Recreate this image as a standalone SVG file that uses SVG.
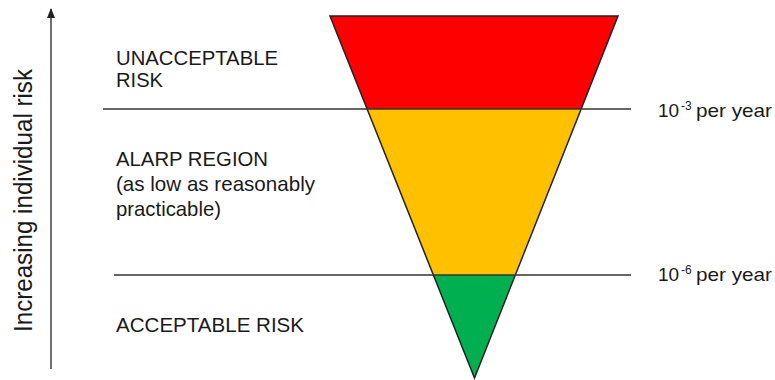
<svg xmlns="http://www.w3.org/2000/svg" width="775" height="380" viewBox="0 0 775 380">
  <defs>
    <style>
      .lbl { font-family: "Liberation Sans", Arial, sans-serif; font-size: 21px; fill: #1a1a1a; }
      .rate { font-family: "Liberation Sans", Arial, sans-serif; font-size: 19px; fill: #1a1a1a; }
      .sup { font-family: "Liberation Sans", Arial, sans-serif; font-size: 12px; fill: #1a1a1a; }
      .axis { font-family: "Liberation Sans", Arial, sans-serif; font-size: 26px; fill: #1a1a1a; }
      .band { stroke: none; }
      .edge { fill: none; stroke: #222; stroke-width: 1.5; stroke-linejoin: miter; }
      .level { stroke: #333; stroke-width: 1.4; fill: none; }
      .arrowline { stroke: #333; stroke-width: 1.4; fill: none; }
    </style>
    <marker id="arrowhead" markerWidth="10" markerHeight="8" refX="9" refY="4" orient="auto" markerUnits="userSpaceOnUse" viewBox="0 0 10 8">
      <path d="M0,0 L10,4 L0,8 Z" fill="#222"/>
    </marker>
  </defs>
  <rect width="775" height="380" fill="#ffffff"/>

  <g id="triangle">
    <polygon id="band-unacceptable" class="band" fill="#FF0000" points="330,16 618,16 581.1,109 367.1,109"/>
    <polygon id="band-alarp" class="band" fill="#FFC000" points="367.1,109 581.1,109 515.3,275 433.4,275"/>
    <polygon id="band-acceptable" class="band" fill="#00B050" points="433.4,275 515.3,275 474.5,378"/>
    <polygon class="edge" points="330,16 618,16 474.5,378"/>
  </g>

  <g id="connectors">
    <line class="level" x1="103" y1="109" x2="631" y2="109"/>
    <line class="level" x1="114" y1="275" x2="631" y2="275"/>
    <line class="arrowline" x1="51" y1="369" x2="51" y2="9" marker-end="url(#arrowhead)"/>
  </g>

  <g id="axis-label">
    <text class="axis" transform="translate(32,332) rotate(-90)" x="0" y="0" textLength="263" lengthAdjust="spacingAndGlyphs">Increasing individual risk</text>
  </g>

  <g id="label-unacceptable">
    <text class="lbl" x="116" y="65" textLength="162" lengthAdjust="spacingAndGlyphs">UNACCEPTABLE</text>
    <text class="lbl" x="116" y="87" textLength="47" lengthAdjust="spacingAndGlyphs">RISK</text>
  </g>

  <g id="label-alarp">
    <text class="lbl" x="116" y="166" textLength="152" lengthAdjust="spacingAndGlyphs">ALARP REGION</text>
    <text class="lbl" x="116" y="191" textLength="199" lengthAdjust="spacingAndGlyphs">(as low as reasonably</text>
    <text class="lbl" x="116" y="216" textLength="105" lengthAdjust="spacingAndGlyphs">practicable)</text>
  </g>

  <g id="label-acceptable">
    <text class="lbl" x="116" y="332" textLength="188" lengthAdjust="spacingAndGlyphs">ACCEPTABLE RISK</text>
  </g>

  <g id="rate-upper">
    <text class="rate" x="658" y="117">10</text>
    <text class="sup" x="681" y="110">-3</text>
    <text class="rate" x="696" y="117" textLength="76" lengthAdjust="spacingAndGlyphs">per year</text>
  </g>

  <g id="rate-lower">
    <text class="rate" x="658" y="281">10</text>
    <text class="sup" x="681" y="274">-6</text>
    <text class="rate" x="696" y="281" textLength="76" lengthAdjust="spacingAndGlyphs">per year</text>
  </g>
</svg>
